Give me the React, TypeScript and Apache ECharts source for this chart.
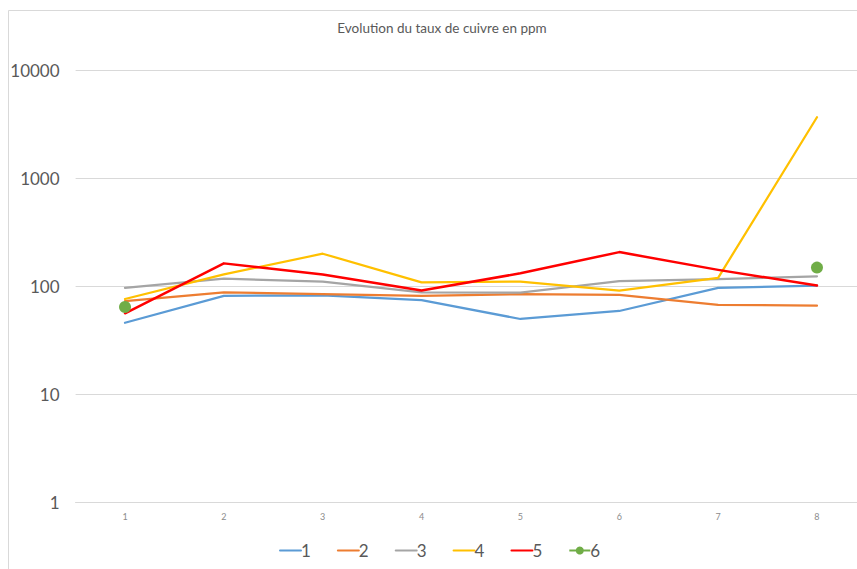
import React, { useEffect, useRef } from "react";
import * as echarts from "echarts";

const titleText = "Evolution du taux de cuivre en ppm";
const categories = ["1", "2", "3", "4", "5", "6", "7", "8"];
const seriesNames = ["1", "2", "3", "4", "5", "6"];
const s1 = [45.7, 81, 82, 74, 49.5, 58.7, 96, 101];
const s2 = [72.6, 87.5, 84, 81, 84, 82.6, 67, 65.7];
const s3 = [96, 117, 110, 87.5, 86.7, 111, 116, 123];
const s4 = [75.8, 128, 199, 108, 110, 90.5, 119, 3650];
const s5 = [55.9, 162, 128, 91, 131, 206, 141, 101];
const s6 = [64, null, null, null, null, null, null, 148];
const yTicks = [1, 10, 100, 1000, 10000];

const colors = ["#5B9BD5", "#ED7D31", "#A5A5A5", "#FFC000", "#FF0000", "#70AD47"];

export default function App() {
  const ref = useRef<HTMLDivElement>(null);
  useEffect(() => {
    if (!ref.current) return;
    const chart = echarts.init(ref.current, undefined, { renderer: "svg" });
    const values = [s1, s2, s3, s4, s5];
    const font = "Lato, 'Open Sans', sans-serif";
    const lineSeries = values.map((d, i) => ({
      name: seriesNames[i],
      type: "line",
      data: d,
      symbol: "none",
      lineStyle: { color: colors[i], width: i === 4 ? 2.5 : 2.25, join: "round", cap: "round" },
      itemStyle: { color: colors[i] },
    }));
    chart.setOption({
      animation: false,
      backgroundColor: "#ffffff",
      title: {
        text: titleText,
        left: 437,
        textAlign: "center",
        top: 16,
        textStyle: { fontFamily: font, fontSize: 13.5, fontWeight: "normal", color: "#595959" },
      },
      graphic: [
        {
          type: "rect",
          shape: { x: 8.5, y: 10.5, width: 900, height: 600 },
          style: { fill: "none", stroke: "#d9d9d9", lineWidth: 1 },
          silent: true,
        },
      ],
      legend: {
        left: 279,
        top: 542,
        padding: 0,
        itemWidth: 21,
        itemHeight: 10,
        itemGap: 26,
        data: seriesNames.map((n, i) =>
          i < 5
            ? { name: n, itemStyle: { color: "rgba(0,0,0,0)", borderWidth: 0, opacity: 0 } }
            : { name: n }
        ),
        textStyle: { fontFamily: font, fontSize: 17, color: "#595959", padding: [0, 0, 0, -5] },
      },
      grid: {
        left: 75.6,
        width: 790.8,
        top: 70,
        bottom: 67,
        containLabel: false,
        outerBoundsMode: "none",
      },
      xAxis: {
        type: "category",
        data: categories,
        boundaryGap: true,
        axisLine: { show: true, lineStyle: { color: "#d9d9d9" } },
        axisTick: { show: false },
        axisLabel: { fontFamily: font, fontSize: 9, color: "#8c8c8c", margin: 10 },
        splitLine: { show: false },
      },
      yAxis: {
        type: "log",
        logBase: 10,
        min: yTicks[0],
        max: yTicks[yTicks.length - 1],
        interval: 1,
        axisLine: { show: false },
        axisTick: { show: false },
        axisLabel: {
          fontFamily: font,
          fontSize: 17,
          color: "#595959",
          margin: 16,
          formatter: (v: number) => String(Math.round(v)),
        },
        splitLine: { show: true, lineStyle: { color: "#d9d9d9", width: 1 } },
        minorSplitLine: { show: false },
      },
      series: [
        ...lineSeries,
        {
          name: seriesNames[5],
          type: "line",
          data: s6,
          symbol: "circle",
          symbolSize: 12,
          showSymbol: true,
          connectNulls: false,
          lineStyle: { color: colors[5], width: 2.25 },
          itemStyle: { color: colors[5] },
        },
      ],
    });
    return () => chart.dispose();
  }, []);
  return (
    <div
      ref={ref}
      style={{ position: "absolute", left: 0, top: 0, width: 857, height: 569 }}
    />
  );
}
